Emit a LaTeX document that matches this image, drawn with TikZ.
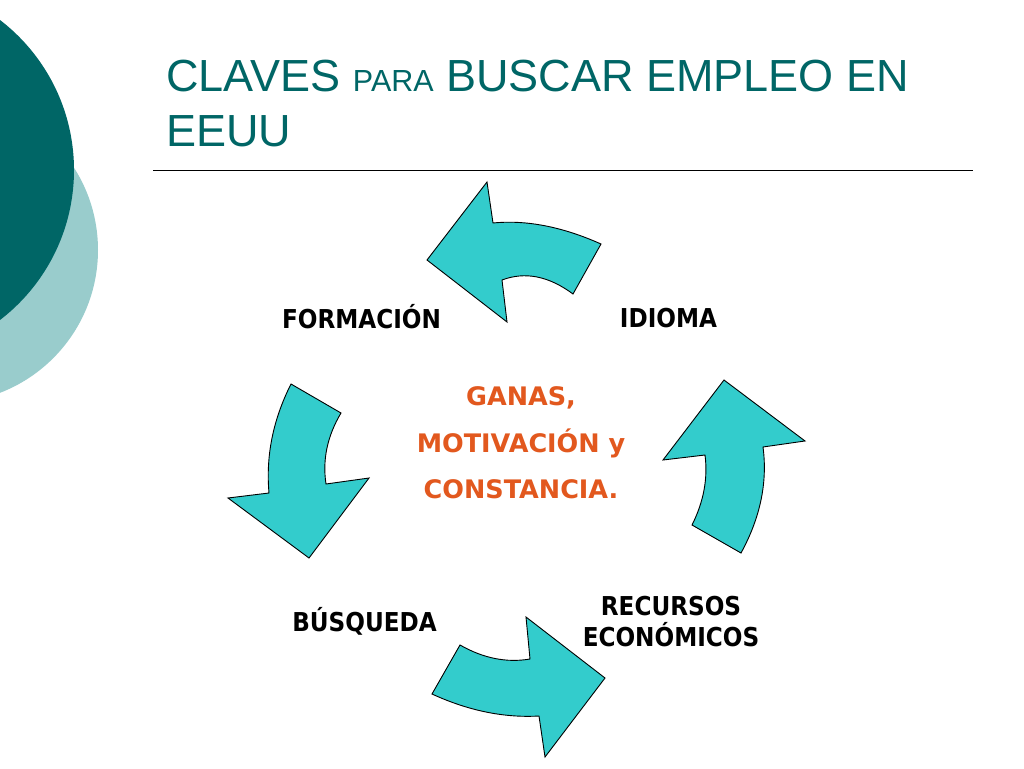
\documentclass[tikz,border=0pt]{standalone}
\usepackage{fontspec}
\setmainfont{Liberation Sans}
\newfontfamily\lblfont[FakeStretch=0.89]{DejaVu Sans}
\newfontfamily\ctrfont{DejaVu Sans}
\definecolor{tealc}{RGB}{0,102,102}
\definecolor{lightc}{RGB}{153,204,204}
\definecolor{arrowc}{RGB}{51,204,204}
\definecolor{orangec}{RGB}{226,88,30}
\begin{document}
\begin{tikzpicture}[x=1pt,y=-1pt,
  turq/.style={fill=arrowc, draw=black, line width=0.9pt, line join=miter},
  lbl/.style={font=\lblfont\bfseries\fontsize{26}{31}\selectfont, text=black, inner sep=0pt, align=center},
  ctr/.style={font=\ctrfont\bfseries\fontsize{25.5}{46.5}\selectfont, text=orangec, inner sep=0pt, align=center},
  ttl/.style={font=\fontsize{45}{56}\selectfont, text=tealc, inner sep=0pt}]
\useasboundingbox (0,0) rectangle (1024,768);
\fill[white] (0,0) rectangle (1024,768);
\begin{scope}
  \clip (0,0) rectangle (1024,768);
  \fill[lightc] (-55,250) circle (153pt);
  \fill[tealc] (-115,170) circle (189pt);
\end{scope}
% title
\node[ttl, anchor=base west] (t1) at (166,91) {CLAVES {\fontsize{30.5}{30.5}\selectfont PARA} BUSCAR EMPLEO EN};
\node[ttl, anchor=base west] (t2) at (166,146) {EEUU};
\coordinate (rl) at (153,170.5);
\coordinate (rr) at (973,170.5);
\draw[line width=1.2pt] (rl) -- (rr);
% top arrow (pointing left)
\filldraw[turq] (427,260) -- (487,182) -- (493,223)
  .. controls (526.3,219.7) and (562.3,226.7) .. (601,244) -- (573,294)
  .. controls (548.7,276) and (525,271.3) .. (502,280) -- (507,322) -- cycle;
% right arrow (pointing up)
\filldraw[turq] (724,380) -- (805,441) -- (763,447)
  .. controls (767.7,482.3) and (760.3,517.7) .. (741,553) -- (692,525)
  .. controls (703.7,501.7) and (708,478.3) .. (705,455) -- (663,460) -- cycle;
% bottom arrow (pointing right)
\filldraw[turq] (605,678) -- (545,757) -- (539,716)
  .. controls (504,718) and (468.3,710.7) .. (432,694) -- (460,645)
  .. controls (483.3,658.3) and (506.7,663) .. (530,659) -- (526,617) -- cycle;
% left arrow (pointing down)
\filldraw[turq] (309,558) -- (228,498) -- (269,493)
  .. controls (265.7,456) and (273,419.7) .. (291,384) -- (341,413)
  .. controls (327.3,436) and (322.3,459.7) .. (326,484) -- (369,478) -- cycle;
% labels
\node[lbl, anchor=base] (form) at (361.5,328) {FORMACIÓN};
\node[lbl, anchor=base] (idioma) at (668.5,327) {IDIOMA};
\node[lbl, anchor=base] (busq) at (364.5,631) {BÚSQUEDA};
\node[lbl] (recur) at (671,622) {RECURSOS\\ECONÓMICOS};
\node[ctr] (center) at (521,443) {GANAS,\\MOTIVACIÓN y\\CONSTANCIA.};
\end{tikzpicture}
\end{document}
